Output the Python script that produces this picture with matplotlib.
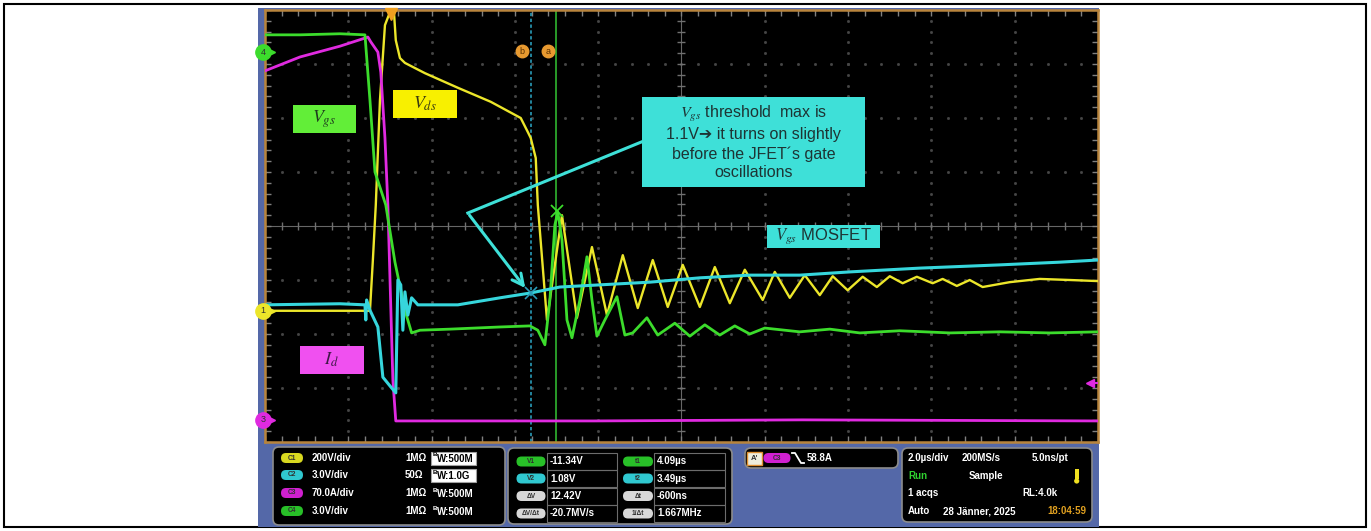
import numpy as np
import matplotlib
matplotlib.use('Agg')
from matplotlib import pyplot as plt
from matplotlib.patches import Rectangle, FancyBboxPatch, Circle

plt.rcParams['font.family'] = ['Liberation Sans', 'DejaVu Sans']
plt.rcParams['mathtext.fontset'] = 'stix'

# time in us (0 = trigger), amplitude in screen divisions (8 div high)
t_vds = [-2.91, -1.10, -0.38, -0.31, -0.24, -0.14, -0.02, 0.10, 0.19, 0.24, 0.34, 0.46, 0.94, 1.73,
         2.52, 3.24, 3.41, 3.48, 3.60, 3.65, 3.87, 4.23, 4.59, 4.95, 5.31, 5.69, 6.05, 6.41, 6.77,
         7.13, 7.54, 7.90, 8.26, 8.62, 9.05, 9.34, 9.70, 10.06, 10.42, 10.73, 11.09, 11.45, 11.79,
         12.10, 12.41, 12.75, 13.13, 13.37, 13.71, 14.02, 14.33, 14.98, 15.70, 16.42, 17.10]
v_vds = [-1.57, -1.57, -1.57, -0.63, 0.39, 2.33, 3.72, 3.96, 4.04, 3.44, 3.11, 3.02, 2.83, 2.56,
         2.30, 2.00, 1.74, 1.63, 1.26, 0.39, -1.74, 0.20, -1.70, -0.39, -1.65, -0.54, -1.52, -0.63,
         -1.50, -0.72, -1.50, -0.76, -1.43, -0.81, -1.37, -0.85, -1.33, -0.91, -1.28, -0.93, -1.19,
         -0.94, -1.13, -0.93, -1.06, -0.94, -1.06, -0.98, -1.11, -1.00, -1.13, -1.04, -0.98, -1.00, -1.02]

t_mos = [-2.91, -1.10, -0.50, -0.48, -0.46, -0.38, -0.19, -0.07, 0.12, 0.24, 0.29, 0.36, 0.41, 0.46,
         0.53, 0.62, 0.77, 1.73, 2.74, 3.48, 4.18, 5.14, 6.34, 7.54, 8.74, 9.94, 11.14, 12.82,
         14.74, 16.18, 17.10]
v_mos = [-1.46, -1.44, -1.46, -1.74, -1.37, -1.56, -1.87, -2.80, -2.98, -3.09, -1.00, -1.09, -1.93,
         -1.22, -1.65, -1.33, -1.46, -1.46, -1.33, -1.24, -1.13, -1.09, -1.04, -0.96, -0.91, -0.91,
         -0.85, -0.78, -0.72, -0.67, -0.63]

t_id = [-2.91, -2.06, -1.10, -0.50, -0.43, -0.36, -0.19, -0.12, -0.02, 0.05, 0.17, 0.24, 5.0, 10.0, 17.10]
v_id = [2.87, 3.13, 3.33, 3.48, 3.50, 3.41, 3.22, 2.85, 1.63, 0.39, -2.85, -3.61, -3.61, -3.59, -3.61]

t_jfet = [-2.91, -2.06, -1.10, -0.50, -0.38, -0.26, 0.00, 0.22, 0.46, 0.62, 0.82, 1.54, 2.74, 3.46,
          3.65, 3.82, 3.94, 4.06, 4.13, 4.23, 4.35, 4.47, 4.66, 4.83, 4.95, 5.07, 5.26, 5.55, 5.74,
          5.93, 6.27, 6.53, 6.94, 7.30, 7.66, 8.02, 8.38, 8.74, 9.10, 9.94, 10.66, 11.38, 12.34,
          13.54, 14.74, 15.94, 17.10]
v_jfet = [3.54, 3.54, 3.56, 3.54, 2.33, 1.00, 0.39, -0.67, -1.56, -1.98, -1.93, -1.91, -1.87, -1.85,
          -1.93, -2.20, -1.37, 0.02, 0.26, -0.26, -1.74, -2.07, -1.37, -0.57, -1.37, -2.04, -1.74,
          -1.31, -2.02, -1.98, -1.70, -2.02, -1.80, -2.04, -1.83, -2.02, -1.85, -2.00, -1.89, -1.96,
          -1.91, -1.98, -1.94, -1.98, -1.96, -1.98, -1.96]

cursor_a = 4.09
cursor_b = 3.49
ch_offsets = {'1': -1.57, '4': 3.22, '3': -3.59}
trig_level = -2.91

ch_names = ['C1', 'C2', 'C3', 'C4']
ch_scale = ['200V/div', '3.0V/div', '70.0A/div', '3.0V/div']
ch_imp = ['1MΩ', '50Ω', '1MΩ', '1MΩ']
ch_bw = ['W:500M', 'W:1.0G', 'W:500M', 'W:500M']
ch_bw_boxed = [True, True, False, False]

meas_l = ['V1', 'V2', 'ΔV', 'ΔV/Δt']
meas_l_val = ['-11.34V', '1.08V', '12.42V', '-20.7MV/s']
meas_r = ['t1', 't2', 'Δt', '1/Δt']
meas_r_val = ['4.09µs', '3.49µs', '-600ns', '1.667MHz']

YEL = '#ece62a'
CYA = '#36d6dc'
MAG = '#e02ae0'
GRN = '#3cdc2c'
ORG = '#b8843c'

fig = plt.figure(figsize=(13.71, 5.31), dpi=100)
bg = fig.add_axes([0, 0, 1, 1])
bg.set_xlim(0, 1371)
bg.set_ylim(531, 0)
bg.axis('off')
bg.add_patch(Rectangle((4, 4), 1362, 523, fill=False, ec='black', lw=1.5))
bg.add_patch(Rectangle((258, 8), 841, 519, fc='#5468a8', ec='none'))

# ---- scope screen ----
ax = fig.add_axes([265 / 1371, 1 - 442 / 531, 833 / 1371, 432 / 531])
ax.set_facecolor('black')
ax.set_xlim(-2.9, 17.1)
ax.set_ylim(-4, 4)
ax.set_xticks([])
ax.set_yticks([])
for s in ax.spines.values():
    s.set_color(ORG)
    s.set_linewidth(1.8)

xc = 7.1
xs = np.arange(-2.9, 17.11, 0.4)
ys = np.arange(-4, 4.01, 0.2)
for k in range(1, 10):
    xv = -2.9 + 2 * k
    if k != 5:
        ax.plot(np.full_like(ys, xv), ys, ls='none', marker='s', ms=1.0, color='#464646')
for yv in range(-3, 4):
    if yv != 0:
        ax.plot(xs, np.full_like(xs, yv), ls='none', marker='s', ms=1.0, color='#464646')
ax.axvline(xc, color='#666666', lw=0.8)
ax.axhline(0, color='#666666', lw=0.8)
ax.plot(np.full_like(ys, xc), ys, ls='none', marker='_', ms=6, color='#707070')
ax.plot(xs, np.zeros_like(xs), ls='none', marker='|', ms=6, color='#707070')
ax.plot(xs, np.full_like(xs, 4), ls='none', marker='|', ms=9, color='#808080')
ax.plot(xs, np.full_like(xs, -4), ls='none', marker='|', ms=9, color='#808080')
ax.plot(np.full_like(ys, -2.9), ys, ls='none', marker='_', ms=9, color='#808080')
ax.plot(np.full_like(ys, 17.1), ys, ls='none', marker='_', ms=9, color='#808080')

# cursors
ax.axvline(cursor_a, color='#2fb52f', lw=1.2)
ax.axvline(cursor_b, color='#2a9cb8', lw=1.2, ls=(0, (2, 1.5)))
for lab, tx in [('b', 3.27), ('a', 3.89)]:
    ax.plot(tx, 3.24, marker='o', ms=9, color='#e89a30', zorder=8)
    ax.text(tx, 3.24, lab, ha='center', va='center', fontsize=6.5, color='#5a3000', zorder=9)

# traces
ax.plot(t_vds, v_vds, color=YEL, lw=1.7, zorder=3)
ax.plot(t_id, v_id, color=MAG, lw=2.0, zorder=3)
ax.plot(t_jfet, v_jfet, color=GRN, lw=2.0, zorder=4)
ax.plot(t_mos, v_mos, color=CYA, lw=2.2, zorder=4)
ax.plot(4.11, 0.28, marker='x', ms=9, mew=1.3, color=GRN, zorder=5)
ax.plot(cursor_b, -1.24, marker='x', ms=8, mew=1.2, color='#2a9cb8', zorder=5)

# trigger position and level markers
ax.plot(0.12, 3.93, marker='v', ms=8, color='#f0a020', clip_on=False, zorder=10)
ax.plot(16.9, trig_level, marker='<', ms=6, color=MAG, clip_on=False, zorder=10)
ax.plot([16.9, 17.1], [trig_level, trig_level], color=MAG, lw=1.5, zorder=10)

# channel ground markers
for lab, col in [('4', GRN), ('1', YEL), ('3', MAG)]:
    off = ch_offsets[lab]
    ax.plot(-2.95, off, marker='o', ms=11, color=col, clip_on=False, zorder=10)
    ax.text(-2.95, off, lab, ha='center', va='center', fontsize=6.5, color='#303030',
            clip_on=False, zorder=11)
    ax.plot(-2.72, off, marker='>', ms=4, color=col, clip_on=False, zorder=10)


# ---- callouts ----
def callout(t0, t1, v0, v1, color, text, tcolor, size, spacing=1.05):
    ax.add_patch(Rectangle((t0, v0), t1 - t0, v1 - v0, fc=color, ec='none', zorder=6))
    ax.text((t0 + t1) / 2, (v0 + v1) / 2, text, ha='center', va='center', fontsize=size,
            color=tcolor, zorder=7, linespacing=spacing)


callout(-2.23, -0.72, 1.72, 2.24, '#62ee38', '$V_{gs}$', '#1e3a1e', 13)
callout(0.17, 1.70, 2.00, 2.52, '#f8f000', '$V_{ds}$', '#3a3a10', 13)
callout(-2.06, -0.53, -2.74, -2.22, '#f050f0', '$I_{d}$', '#401848', 13)
callout(6.15, 11.50, 0.72, 2.39, '#3ee0d8',
        '$V_{gs}$ threshold  max is\n1.1V➔ it turns on slightly\nbefore the JFET´s gate\noscillations',
        '#1e3434', 11.5, spacing=1.3)
callout(9.15, 11.86, -0.41, 0.02, '#3ee0d8', '$V_{gs}$ MOSFET', '#1e3434', 12)

ax.plot([6.15, 1.97], [1.56, 0.24], color='#3ee0d8', lw=2.2, zorder=6)
ax.annotate('', xy=(3.39, -1.19), xytext=(1.97, 0.24),
            arrowprops=dict(arrowstyle='->,head_length=0.8,head_width=0.4', color='#3ee0d8', lw=2.2),
            zorder=6)


# ---- bottom info panel ----
def panel_box(x0, y0, x1, y1):
    bg.add_patch(FancyBboxPatch((x0, y0), x1 - x0, y1 - y0, boxstyle='round,pad=0,rounding_size=6',
                                fc='black', ec='#8c8c8c', lw=1.2))


def pill(cx, cy, w, h, color, label):
    bg.add_patch(FancyBboxPatch((cx - w / 2, cy - h / 2), w, h,
                                boxstyle='round,pad=0,rounding_size=%.1f' % (h / 2), fc=color, ec='none'))
    bg.text(cx, cy, label, ha='center', va='center', fontsize=4.8, fontweight='bold', color='#303030')


def txt(x, y, s, color='white', size=7):
    bg.text(x, y, s, ha='left', va='center', fontsize=size, fontweight='bold', color=color)


panel_box(273, 447, 505, 525)
row_y = [458, 475, 493, 511]
pill_cols = ['#d8d820', '#30c8d0', '#d020d0', '#28c028']
for i in range(4):
    y = row_y[i]
    pill(292, y, 22, 10, pill_cols[i], ch_names[i])
    txt(312, y, ch_scale[i])
    txt(405, y, ch_imp[i])
    c = 'white'
    if ch_bw_boxed[i]:
        bg.add_patch(Rectangle((431, y - 6.5), 45, 13, fc='white', ec='#a0a0a0', lw=0.8))
        c = 'black'
    bg.text(432.5, y - 3, 'B', fontsize=4.5, fontweight='bold', color=c, ha='left', va='center')
    txt(437, y + 1, ch_bw[i], color=c)

panel_box(508, 448, 732, 524)
meas_y = [461.5, 478.5, 496, 513.5]
l_cols = ['#28c028', '#30c8d0', '#d8d8d8', '#d8d8d8']
for i in range(4):
    y = meas_y[i]
    bg.add_patch(Rectangle((547, y - 8.5), 70, 17, fill=False, ec='#6c6c6c', lw=0.8))
    bg.add_patch(Rectangle((654, y - 8.5), 71, 17, fill=False, ec='#6c6c6c', lw=0.8))
    pill(531, y, 29, 10, l_cols[i], meas_l[i])
    pill(638, y, 30, 10, l_cols[i], meas_r[i])
    txt(550, y, meas_l_val[i])
    txt(657, y, meas_r_val[i])

panel_box(745, 448, 898, 468)
bg.add_patch(Rectangle((747, 452), 15, 13, fc='#eeeede', ec='#e09030', lw=1))
bg.text(754.5, 458.5, "A'", ha='center', va='center', fontsize=5.5, fontweight='bold', color='#303030')
pill(777, 458, 27, 10, '#d020d0', 'C3')
bg.plot([792, 795, 801, 804], [453, 453, 463, 463], color='white', lw=1.3)
txt(807, 458, '58.8A')

panel_box(902, 448, 1092, 522)
txt(908, 458, '2.0µs/div')
txt(962, 458, '200MS/s')
txt(1032, 458, '5.0ns/pt')
txt(908, 476, 'Run', color='#30d030')
txt(969, 476, 'Sample')
bg.add_patch(Rectangle((1075, 469), 3.5, 10, fc='#f0e020', ec='none'))
bg.add_patch(Circle((1076.7, 481), 2.6, fc='#f0e020', ec='none'))
txt(908, 493, '1 acqs')
txt(1022, 493, 'RL:4.0k')
txt(908, 511, 'Auto')
txt(943, 511, '28 Jänner, 2025')
txt(1047, 511, '18:04:59', color='#e0a020')

fig.savefig('out.png', dpi=100, facecolor='white')
